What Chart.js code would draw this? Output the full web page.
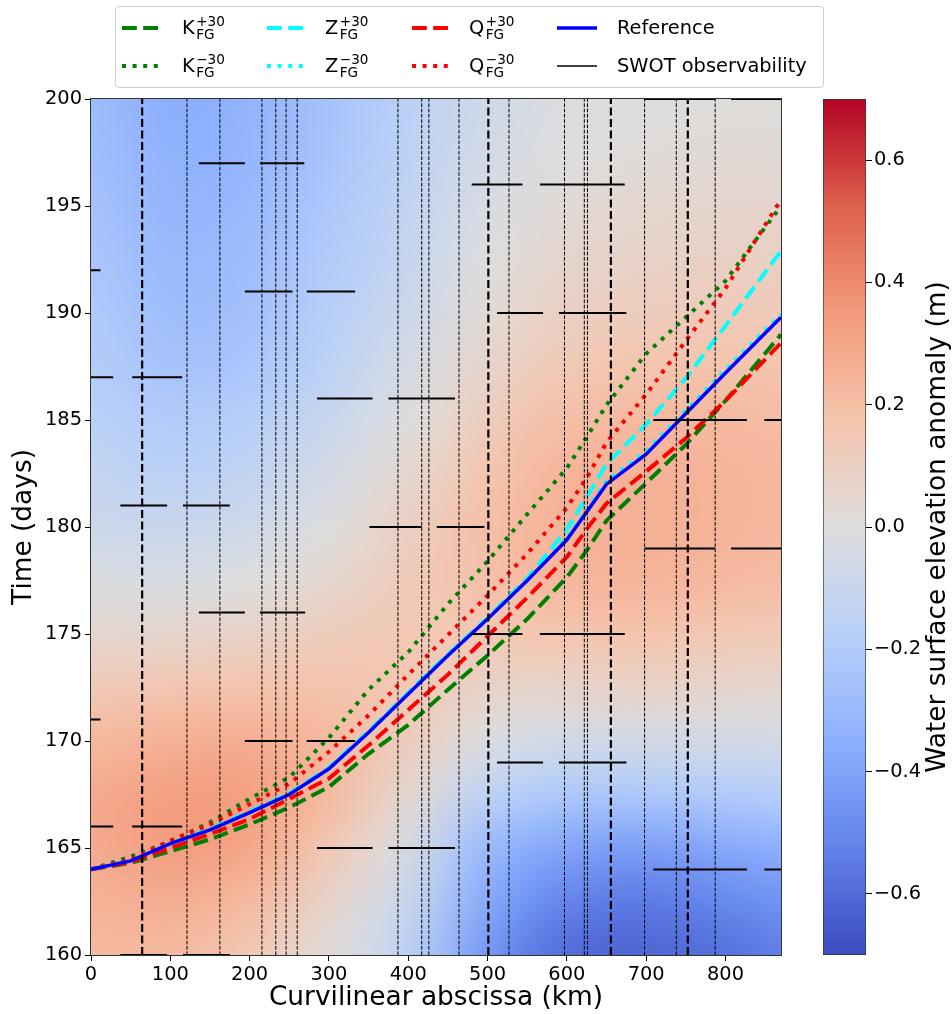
<!DOCTYPE html>
<html><head><meta charset="utf-8">
<script src="https://cdn.jsdelivr.net/npm/chart.js"></script>
<style>
html,body{margin:0;padding:0;background:#fff;}
#wrap{position:relative;width:952px;height:1014px;overflow:hidden;font-family:'DejaVu Sans',sans-serif;color:#000;}
#main{position:absolute;left:0;top:0;}
#cb{position:absolute;left:790px;top:0;}
#legend{position:absolute;left:115px;top:6px;width:707px;height:80px;border:1px solid #cccccc;border-radius:4px;background:rgba(255,255,255,0.8);}
.smp{position:absolute;}
.t{position:absolute;font-size:19.4px;line-height:1;white-space:nowrap;}
.ss{display:inline-block;position:relative;width:0;height:0;}
.ss span{position:absolute;left:1.5px;font-size:13.6px;line-height:1;white-space:nowrap;}
.ss .sp{top:-19.2px;}
.ss .sb{top:-6.2px;}
</style></head>
<body>
<div id="wrap">
<canvas id="main" width="952" height="1014"></canvas>
<canvas id="cb" width="162" height="1014"></canvas>
<div id="legend"></div>
<svg class="smp" style="left:122px;top:23px" width="40" height="10"><line x1="0" y1="5" x2="40" y2="5" stroke="#008000" stroke-width="4" stroke-dasharray="14.8 6.4"/></svg>
<svg class="smp" style="left:122px;top:61px" width="40" height="10"><line x1="0" y1="5" x2="40" y2="5" stroke="#008000" stroke-width="4" stroke-dasharray="4 6.6"/></svg>
<svg class="smp" style="left:267px;top:23px" width="40" height="10"><line x1="0" y1="5" x2="40" y2="5" stroke="#00ffff" stroke-width="4" stroke-dasharray="14.8 6.4"/></svg>
<svg class="smp" style="left:267px;top:61px" width="40" height="10"><line x1="0" y1="5" x2="40" y2="5" stroke="#00ffff" stroke-width="4" stroke-dasharray="4 6.6"/></svg>
<svg class="smp" style="left:412px;top:23px" width="40" height="10"><line x1="0" y1="5" x2="40" y2="5" stroke="#ff0000" stroke-width="4" stroke-dasharray="14.8 6.4"/></svg>
<svg class="smp" style="left:412px;top:61px" width="40" height="10"><line x1="0" y1="5" x2="40" y2="5" stroke="#ff0000" stroke-width="4" stroke-dasharray="4 6.6"/></svg>
<svg class="smp" style="left:557px;top:23px" width="40" height="10"><line x1="0" y1="5" x2="40" y2="5" stroke="#0000ff" stroke-width="3.5"/></svg>
<svg class="smp" style="left:557px;top:61px" width="40" height="10"><line x1="0" y1="5" x2="40" y2="5" stroke="#000" stroke-width="1.5"/></svg>
<div class="t" style="left:182px;top:17.7px">K<span class="ss"><span class="sp">+30</span><span class="sb">FG</span></span></div>
<div class="t" style="left:182px;top:55.7px">K<span class="ss"><span class="sp">−30</span><span class="sb">FG</span></span></div>
<div class="t" style="left:325px;top:17.7px">Z<span class="ss"><span class="sp">+30</span><span class="sb">FG</span></span></div>
<div class="t" style="left:325px;top:55.7px">Z<span class="ss"><span class="sp">−30</span><span class="sb">FG</span></span></div>
<div class="t" style="left:469px;top:17.7px">Q<span class="ss"><span class="sp">+30</span><span class="sb">FG</span></span></div>
<div class="t" style="left:469px;top:55.7px">Q<span class="ss"><span class="sp">−30</span><span class="sb">FG</span></span></div>
<div class="t" style="left:617px;top:17.7px">Reference</div>
<div class="t" style="left:617px;top:55.7px">SWOT observability</div>
</div>
<script>
// ---------------- data ----------------
const xMin = 0, xMax = 870, tMin = 160, tMax = 200;
const xTicks = [0, 100, 200, 300, 400, 500, 600, 700, 800];
const tTicks = [160, 165, 170, 175, 180, 185, 190, 195, 200];
const cbMin = -0.7, cbMax = 0.7;
const cbTicks = [-0.6, -0.4, -0.2, 0.0, 0.2, 0.4, 0.6];

const xKm  = [0, 50, 100, 150, 200, 250, 300, 350, 400, 450, 500, 550, 600, 625, 650, 700, 750, 800, 870];
const tRef = [164.0, 164.4, 165.2, 165.85, 166.65, 167.5, 168.7, 170.4, 172.2, 174.0, 175.7, 177.5, 179.4, 180.7, 182.0, 183.4, 185.3, 187.2, 189.8];
const tZp  = [164.0, 164.4, 165.2, 165.9, 166.7, 167.55, 168.75, 170.45, 172.25, 174.05, 175.75, 177.6, 179.9, 181.4, 182.95, 184.8, 186.95, 189.4, 192.9];
const tZm  = [164.0, 164.4, 165.2, 165.85, 166.65, 167.5, 168.7, 170.4, 172.2, 174.0, 175.7, 177.5, 179.5, 180.8, 182.15, 183.55, 185.45, 187.35, 189.95];
const tKp  = [164.0, 164.3, 164.85, 165.4, 166.1, 166.9, 167.85, 169.4, 170.75, 172.4, 174.0, 175.7, 177.65, 178.9, 180.3, 182.05, 183.85, 185.9, 189.0];
const tKm  = [164.0, 164.6, 165.3, 166.2, 167.3, 168.3, 170.15, 172.4, 174.15, 176.4, 178.4, 180.6, 182.75, 184.2, 185.7, 188.1, 189.8, 191.5, 195.0];
const tQp  = [164.0, 164.35, 165.0, 165.65, 166.35, 167.3, 168.25, 169.8, 171.45, 173.1, 174.9, 176.7, 178.6, 179.9, 181.1, 182.6, 184.15, 185.9, 188.6];
const tQm  = [164.0, 164.45, 165.35, 166.1, 167.05, 168.0, 169.5, 171.2, 173.1, 174.95, 176.8, 178.75, 180.9, 182.3, 183.95, 186.2, 188.7, 191.15, 195.3];

// vertical dashed reference positions (km)
const vThickX = [64.5, 501, 655.5, 752.5];
const vThinX  = [121, 162.5, 215.5, 233, 246, 260, 387, 417, 426, 464, 527, 597, 622, 626, 698, 738, 787];

// SWOT observability segments: time (days), start km, end km
const segT  = [200, 200, 197, 197, 196, 196, 192, 191, 191, 190, 190, 187, 187, 186, 186, 185, 185, 181, 181, 180, 180, 179, 179, 176, 176, 175, 175, 171, 170, 170, 169, 169, 166, 166, 165, 165, 164, 164, 160, 160];
const segX1 = [698, 807, 136, 213, 480, 566,   0, 194, 272, 512, 590,   0,  52, 285, 375, 709, 849,  37, 116, 351, 436, 698, 807, 136, 213, 480, 566,   0, 194, 272, 512, 590,   0,  52, 285, 375, 709, 849,  37, 116];
const segX2 = [787, 870, 194, 269, 544, 673,  12, 254, 333, 570, 675,  28, 115, 355, 459, 827, 870,  96, 175, 417, 496, 787, 870, 194, 270, 544, 673,  12, 254, 333, 570, 675,  28, 115, 355, 459, 827, 870,  96, 175];

// water surface elevation anomaly (m) on a grid: rows = fieldT, cols = fieldX
const fieldX = [0, 100, 200, 300, 400, 500, 600, 700, 800, 900];
const fieldT = [160, 162.5, 165, 167.5, 170, 172.5, 175, 177.5, 180, 182.5, 185, 187.5, 190, 192.5, 195, 197.5, 200];
const anomaly = [
  [ 0.22,  0.22,  0.15,  0.02, -0.15, -0.45, -0.60, -0.62, -0.58, -0.52],
  [ 0.25,  0.27,  0.22,  0.07, -0.10, -0.38, -0.52, -0.55, -0.50, -0.45],
  [ 0.28,  0.34,  0.30,  0.15, -0.04, -0.30, -0.40, -0.42, -0.38, -0.34],
  [ 0.28,  0.33,  0.33,  0.22,  0.05, -0.15, -0.22, -0.22, -0.20, -0.18],
  [ 0.22,  0.26,  0.27,  0.22,  0.12, -0.02, -0.06, -0.05, -0.05, -0.05],
  [ 0.14,  0.16,  0.18,  0.18,  0.15,  0.08,  0.07,  0.08,  0.06,  0.05],
  [ 0.05,  0.06,  0.08,  0.12,  0.15,  0.15,  0.17,  0.18,  0.15,  0.13],
  [-0.02, -0.03,  0.00,  0.05,  0.13,  0.19,  0.23,  0.24,  0.22,  0.20],
  [-0.08, -0.10, -0.07,  0.00,  0.10,  0.20,  0.25,  0.26,  0.24,  0.22],
  [-0.12, -0.16, -0.13, -0.05,  0.05,  0.17,  0.24,  0.25,  0.24,  0.22],
  [-0.16, -0.20, -0.18, -0.10,  0.00,  0.12,  0.20,  0.22,  0.22,  0.20],
  [-0.19, -0.25, -0.23, -0.15, -0.04,  0.07,  0.15,  0.17,  0.18,  0.17],
  [-0.21, -0.28, -0.26, -0.18, -0.08,  0.03,  0.10,  0.12,  0.13,  0.13],
  [-0.23, -0.30, -0.28, -0.20, -0.11,  0.00,  0.06,  0.08,  0.09,  0.09],
  [-0.25, -0.32, -0.30, -0.22, -0.13, -0.03,  0.03,  0.05,  0.06,  0.06],
  [-0.27, -0.34, -0.32, -0.24, -0.15, -0.05,  0.00,  0.02,  0.03,  0.03],
  [-0.28, -0.36, -0.33, -0.25, -0.16, -0.07, -0.01,  0.00,  0.01,  0.01]
];

// ---------------- styling helpers ----------------
const cmapStops = [[59,76,192],[98,130,234],[141,176,254],[184,208,249],[221,221,221],[245,196,173],[244,154,123],[222,96,77],[180,4,38]];
function cmap(v){
  let u = (v - cbMin) / (cbMax - cbMin); u = Math.max(0, Math.min(1, u));
  const p = u * (cmapStops.length - 1); const i = Math.min(cmapStops.length - 2, Math.floor(p)); const f = p - i;
  const a = cmapStops[i], b = cmapStops[i + 1];
  return [a[0] + (b[0] - a[0]) * f, a[1] + (b[1] - a[1]) * f, a[2] + (b[2] - a[2]) * f];
}
const TICK = 19.4, LABEL = 26.4;
Chart.defaults.font.family = "'DejaVu Sans', sans-serif";
Chart.defaults.color = '#000';

const pts = (ys) => xKm.map((x, i) => ({x, y: ys[i]}));
function vlines(xs){ const d = []; xs.forEach(x => { d.push({x, y: tMin}, {x, y: tMax}, {x, y: null}); }); return d; }
function hsegs(){ const d = []; segT.forEach((t, i) => { d.push({x: segX1[i], y: t}, {x: segX2[i], y: t}, {x: segX2[i], y: null}); }); return d; }
const lineDs = (label, data, color, width, dash) => ({label, data, borderColor: color, borderWidth: width, borderDash: dash || [], pointRadius: 0, fill: false, tension: 0, spanGaps: false, borderCapStyle: 'butt'});

const heatmap = {
  id: 'heatmap',
  beforeDatasetsDraw(chart){
    const {ctx, chartArea: a, scales: {x, y}} = chart;
    const nx = fieldX.length, ny = fieldT.length;
    const off = document.createElement('canvas'); off.width = nx; off.height = ny;
    const octx = off.getContext('2d'); const img = octx.createImageData(nx, ny);
    for (let j = 0; j < ny; j++) for (let i = 0; i < nx; i++){
      const c = cmap(anomaly[j][i]); const r = ny - 1 - j; const k = (r * nx + i) * 4;
      img.data[k] = c[0]; img.data[k+1] = c[1]; img.data[k+2] = c[2]; img.data[k+3] = 255;
    }
    octx.putImageData(img, 0, 0);
    const x0 = x.getPixelForValue(fieldX[0]), x1 = x.getPixelForValue(fieldX[nx-1]);
    const yT = y.getPixelForValue(fieldT[ny-1]), yB = y.getPixelForValue(fieldT[0]);
    const dx = (x1 - x0) / (nx - 1), dy = (yB - yT) / (ny - 1);
    ctx.save();
    ctx.beginPath(); ctx.rect(a.left, a.top, a.right - a.left, a.bottom - a.top); ctx.clip();
    ctx.imageSmoothingEnabled = true; ctx.imageSmoothingQuality = 'high';
    ctx.drawImage(off, x0 - dx / 2, yT - dy / 2, dx * nx, dy * ny);
    ctx.restore();
  }
};
const spines = {
  id: 'spines',
  afterDraw(chart){
    const {ctx, chartArea: a} = chart;
    ctx.save(); ctx.strokeStyle = '#333'; ctx.lineWidth = 1;
    ctx.strokeRect(a.left - 0.5, a.top - 0.5, a.right - a.left + 1, a.bottom - a.top + 1);
    ctx.restore();
  }
};

new Chart(document.getElementById('main'), {
  type: 'line',
  data: { datasets: [
    lineDs('thick', vlines(vThickX), '#000', 2.2, [8, 3.5]),
    lineDs('thin', vlines(vThinX), '#000', 1, [3.7, 1.6]),
    lineDs('SWOT observability', hsegs(), '#000', 2),
    lineDs('Reference', pts(tRef), '#0000ff', 3.5),
    lineDs('Q-30', pts(tQm), '#ff0000', 4, [4, 6.6]),
    lineDs('Q+30', pts(tQp), '#ff0000', 4, [14.8, 6.4]),
    lineDs('Z-30', pts(tZm), '#00ffff', 4, [4, 6.6]),
    lineDs('Z+30', pts(tZp), '#00ffff', 4, [14.8, 6.4]),
    lineDs('K-30', pts(tKm), '#008000', 4, [4, 6.6]),
    lineDs('K+30', pts(tKp), '#008000', 4, [14.8, 6.4])
  ]},
  options: {
    responsive: false, animation: false, devicePixelRatio: 1, events: [],
    layout: { padding: { left: 0, right: 171, top: 99, bottom: 0 } },
    plugins: { legend: { display: false }, tooltip: { enabled: false } },
    scales: {
      x: { type: 'linear', min: xMin, max: xMax,
        afterBuildTicks: ax => { ax.ticks = xTicks.map(v => ({value: v})); },
        afterFit: ax => { ax.height = 59; },
        ticks: { font: { size: TICK }, padding: 2, maxRotation: 0, autoSkip: false, callback: v => String(v) },
        grid: { drawOnChartArea: false, drawTicks: true, tickLength: 6, tickColor: '#000', tickWidth: 1 },
        border: { display: false },
        title: { display: true, text: 'Curvilinear abscissa (km)', font: { size: LABEL }, padding: { top: 0, bottom: 0 } } },
      y: { type: 'linear', min: tMin, max: tMax,
        afterBuildTicks: ax => { ax.ticks = tTicks.map(v => ({value: v})); },
        afterFit: ax => { ax.width = 91; },
        ticks: { font: { size: TICK }, padding: 3, autoSkip: false, callback: v => String(v) },
        grid: { drawOnChartArea: false, drawTicks: true, tickLength: 6, tickColor: '#000', tickWidth: 1 },
        border: { display: false },
        title: { display: true, text: 'Time (days)', font: { size: LABEL }, padding: { top: 8, bottom: 0 } } }
    }
  },
  plugins: [heatmap, spines]
});

const cbTitle = {
  id: 'cbTitle',
  afterDraw(chart){
    const {ctx, chartArea: a} = chart;
    ctx.save();
    ctx.translate(148, (a.top + a.bottom) / 2); ctx.rotate(-Math.PI / 2);
    ctx.font = LABEL + "px 'DejaVu Sans', sans-serif"; ctx.fillStyle = '#000';
    ctx.textAlign = 'center'; ctx.textBaseline = 'middle';
    ctx.fillText('Water surface elevation anomaly (m)', 0, 0);
    ctx.restore();
  }
};
new Chart(document.getElementById('cb'), {
  type: 'bar',
  data: { labels: [''], datasets: [{
    data: [[cbMin, cbMax]],
    backgroundColor: (c) => {
      const ch = c.chart; if (!ch.chartArea) return '#ddd';
      const ys = ch.scales.y; const g = ch.ctx.createLinearGradient(0, ys.getPixelForValue(cbMin), 0, ys.getPixelForValue(cbMax));
      cmapStops.forEach((s, i) => g.addColorStop(i / (cmapStops.length - 1), 'rgb(' + s.join(',') + ')'));
      return g;
    },
    borderColor: '#333', borderWidth: 1, borderSkipped: false, barPercentage: 1, categoryPercentage: 1
  }]},
  options: {
    responsive: false, animation: false, devicePixelRatio: 1, events: [],
    layout: { padding: { left: 33, right: 0, top: 99, bottom: 59 } },
    plugins: { legend: { display: false }, tooltip: { enabled: false } },
    scales: {
      x: { display: false },
      y: { position: 'right', min: cbMin, max: cbMax,
        afterBuildTicks: ax => { ax.ticks = cbTicks.map(v => ({value: v})); },
        afterFit: ax => { ax.width = 86; },
        ticks: { font: { size: TICK }, padding: 2, callback: v => v.toFixed(1).replace('-', '\u2212') },
        grid: { drawOnChartArea: false, drawTicks: true, tickLength: 6, tickColor: '#000' },
        border: { display: false } }
    }
  },
  plugins: [cbTitle]
});
</script>
</body></html>
